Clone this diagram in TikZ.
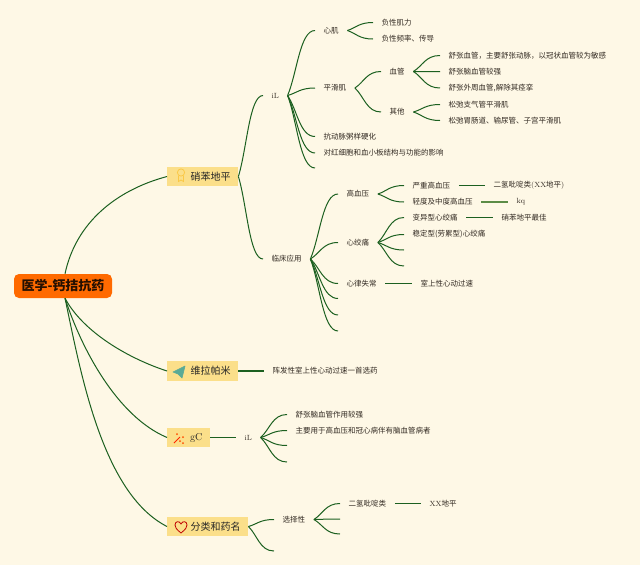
\documentclass[tikz,border=0pt]{standalone}
\usepackage{fontspec}
\newfontfamily\cjk{Noto Sans CJK SC}
\usetikzlibrary{calc}
\definecolor{mybg}{RGB}{254,248,230}
\definecolor{myorange}{RGB}{255,106,0}
\definecolor{mygold}{RGB}{251,223,138}
\definecolor{mygreen}{RGB}{28,96,32}
\definecolor{myfresh}{RGB}{92,140,70}
\definecolor{mytext}{RGB}{50,42,34}
\definecolor{mymedal}{RGB}{250,200,70}
\definecolor{myplane}{RGB}{90,170,150}
\tikzset{
  rootbox/.style={rectangle, fill=myorange, rounded corners=5pt, minimum width=98pt,
    minimum height=24pt, inner sep=0pt, font=\cjk\fontsize{13}{13}\selectfont\bfseries, text=black!85!myorange},
  topic/.style={rectangle, fill=mygold, anchor=west, minimum height=19.5pt, inner sep=0pt,
    font=\cjk\fontsize{10}{10}\selectfont, text=black!85},
  leaf/.style={anchor=west, inner xsep=8.5pt, inner ysep=1pt, yshift=-0.5pt,
    font=\cjk\fontsize{7.5}{7.5}\selectfont, text=mytext},
  link/.style={color=mygreen, line width=1pt},
  twig/.style={link, to path={.. controls ($(\tikztostart)!.35!(\tikztotarget)$)
    and ($(\tikztotarget)!.55!(\tikztotarget-|\tikztostart)$) .. (\tikztotarget)}},
  bar/.style={link, line width=1.3pt}
}
\newcommand{\lat}[1]{{\rmfamily #1}}

\begin{document}
\begin{tikzpicture}[x=1pt, y=-1pt]
  \fill[mybg] (0,0) rectangle (640,565);
  \useasboundingbox (0,0) rectangle (640,565);

  % Root and main topics
  \node[rootbox] (root) at (63,286) {医学-钙拮抗药};
  \node[topic, minimum width=71pt] (xbdp) at (167,176.5) {\hspace{16pt}硝苯地平};
  \node[topic, minimum width=71pt] (wlpm) at (167,371) {\hspace{16pt}维拉帕米};
  \node[topic, minimum width=43pt] (gc) at (167,437.5) {\hspace{15pt}\lat{gC}};
  \node[topic, minimum width=81pt] (fl) at (167,526.5) {\hspace{16pt}分类和药名};

  % Icons
  \draw[mymedal, line width=0.8pt] (181,172.5) circle (3.6pt);
  \draw[mymedal, line width=0.8pt] (178.5,175.5) -- (178.5,181.5) -- (181,180) -- (183.5,181.5) -- (183.5,175.5);
  \draw[myplane, line width=0.6pt, fill=myplane, line join=round] (173,372) -- (185,366) -- (182,378) -- (178,374) -- cycle;
  \draw[red!70!orange, line width=0.9pt] (174,443) -- (180,437);
  \fill[orange!60!red] (180,441) circle (1pt) (177,434) circle (1pt) (183,437) circle (1pt) (183,443) circle (1pt);
  \draw[red!75!black, line width=0.8pt, line join=round] (181,533) .. controls (176,529) and (175,527) .. (175,525)
    .. controls (175,521) and (179.5,520.5) .. (181,524) .. controls (182.5,520.5) and (187,521) .. (187,525)
    .. controls (187,527) and (186,529) .. (181,533);

  % First level under the first topic
  \node[leaf] (il) at (263,95) {\lat{iL}};
  \node[leaf] (lcyy) at (263,258.5) {临床应用};
  \node[leaf] (xj) at (315,30) {心肌};
  \node[leaf] (phj) at (315,87.5) {平滑肌};
  \node[leaf] (kdm) at (315,136) {抗动脉粥样硬化};
  \node[leaf] (dhx) at (315,152.5) {对红细胞和血小板结构与功能的影响};
  \coordinate (ilx) at (315,168);

  \node[leaf] (fxjl) at (373,22) {负性肌力};
  \node[leaf] (fxpl) at (373,38.5) {负性频率、传导};
  \node[leaf] (xg) at (381,71) {血管};
  \node[leaf] (qt) at (381,111.5) {其他};
  \node[leaf] (xg1) at (440,55) {舒张血管，主要舒张动脉，以冠状血管较为敏感};
  \node[leaf] (xg2) at (440,71) {舒张脑血管较强};
  \node[leaf] (xg3) at (440,87.5) {舒张外周血管,解除其痉挛};
  \node[leaf] (qt1) at (440,104) {松弛支气管平滑肌};
  \node[leaf] (qt2) at (440,120) {松弛胃肠道、输尿管、子宫平滑肌};

  % Clinical use
  \node[leaf] (gxy) at (338,193.5) {高血压};
  \node[leaf] (xjt) at (338,242) {心绞痛};
  \node[leaf] (xlsc) at (338,283) {心律失常};
  \coordinate (lc1) at (338,298.5);
  \coordinate (lc2) at (338,315);
  \coordinate (lc3) at (338,331);
  \node[leaf] (yz) at (404,185) {严重高血压};
  \node[leaf] (qd) at (404,201.5) {轻度及中度高血压};
  \node[leaf] (by) at (404,217) {变异型心绞痛};
  \node[leaf] (wd) at (404,234) {稳定型(劳累型)心绞痛};
  \coordinate (xjt1) at (404,250);
  \coordinate (xjt2) at (404,266);
  \node[leaf] (eqb) at (485,185) {二氢吡啶类\lat{(XX}地平\lat{)}};
  \node[leaf] (kq) at (508,201.5) {\lat{kq}};
  \node[leaf] (zj) at (493,217) {硝苯地平最佳};
  \node[leaf] (sx) at (412,283) {室上性心动过速};

  % Lower topics
  \node[leaf] (zf) at (264,370.5) {阵发性室上性心动过速一首选药};
  \node[leaf] (gil) at (236,437) {\lat{iL}};
  \node[leaf] (gc1) at (287,414) {舒张脑血管作用较强};
  \node[leaf] (gc2) at (287,430) {主要用于高血压和冠心病伴有脑血管病者};
  \coordinate (gc3) at (287,445.5);
  \coordinate (gc4) at (287,462);
  \node[leaf] (xzx) at (274,519) {选择性};
  \coordinate (flx) at (274,551);
  \node[leaf] (eq) at (340,503) {二氢吡啶类};
  \coordinate (xz2) at (340,519);
  \coordinate (xz3) at (340,534);
  \node[leaf] (xx) at (421,503) {\lat{XX}地平};

  % Connectors
  \draw[link] ([xshift=2pt]root.north) to[out=78, in=195, looseness=0.95] (xbdp.west);
  \draw[link] ([xshift=2pt]root.south) to[out=-62, in=162, looseness=0.8] (wlpm.west);
  \draw[link] ([xshift=2pt]root.south) to[out=-72, in=157, looseness=0.8] (gc.west);
  \draw[link] ([xshift=2pt]root.south) to[out=-78, in=153, looseness=0.75] (fl.west);

  \foreach \from/\kid in {xbdp/il, xbdp/lcyy, il/xj, il/phj, il/kdm, il/dhx, xj/fxjl, xj/fxpl,
      phj/xg, phj/qt, xg/xg1, xg/xg2, xg/xg3, qt/qt1, qt/qt2, lcyy/gxy, lcyy/xjt, lcyy/xlsc,
      gxy/yz, gxy/qd, xjt/by, xjt/wd, gil/gc1, gil/gc2, fl/xzx, xzx/eq} {
    \draw[twig] (\from.east) to (\kid.west);
  }
  \foreach \from/\kid in {il/ilx, lcyy/lc1, lcyy/lc2, lcyy/lc3, xjt/xjt1, xjt/xjt2, gil/gc3, gil/gc4,
      fl/flx, xzx/xz2, xzx/xz3} {
    \draw[twig] (\from.east) to (\kid);
  }
  \foreach \from/\kid in {yz/eqb, by/zj, xlsc/sx, wlpm/zf, gc/gil, eq/xx} {
    \draw[bar] (\from.east) -- (\kid.west);
  }
  \draw[bar, color=myfresh] (qd.east) -- (kq.west);
\end{tikzpicture}
\end{document}
